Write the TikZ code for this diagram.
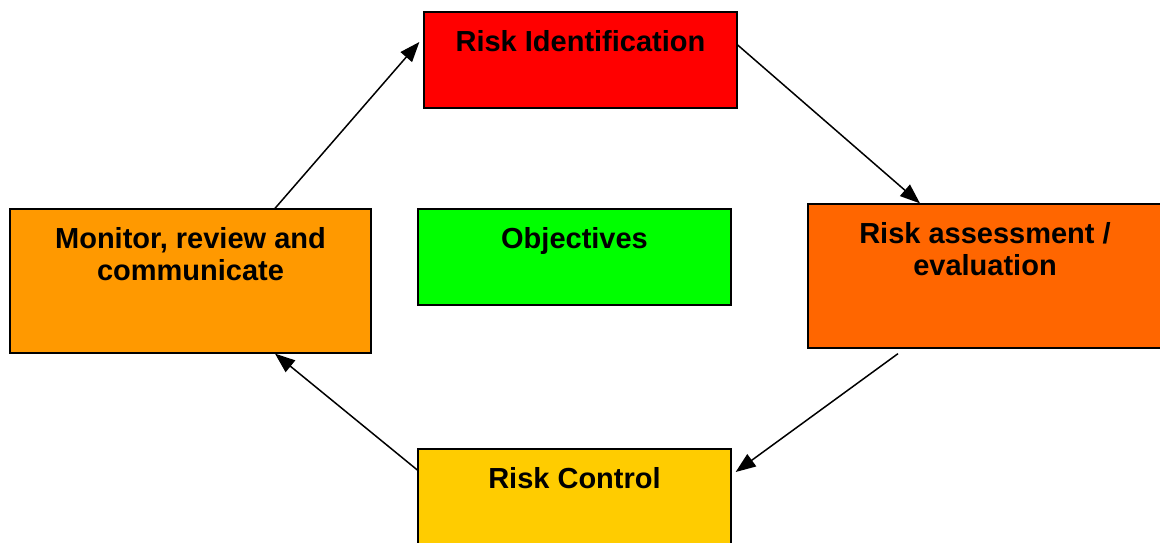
\documentclass[tikz,border=0pt]{standalone}
\usepackage{fontspec}
\setmainfont{Liberation Sans}
\usetikzlibrary{arrows.meta}
\definecolor{identred}{HTML}{FF0000}
\definecolor{objgreen}{HTML}{00FF00}
\definecolor{assessorange}{HTML}{FF6600}
\definecolor{monitororange}{HTML}{FF9900}
\definecolor{controlyellow}{HTML}{FFCC00}
\begin{document}
\begin{tikzpicture}[x=1pt,y=-1pt,
  box/.style={draw=black,line width=1.3pt,minimum width=313,minimum height=96,inner sep=0},
  title/.style={font=\fontsize{29}{32}\selectfont\bfseries,align=center,anchor=north,inner sep=0,yshift=-19},
  link/.style={line width=1.5pt,-{Triangle[length=20pt,width=15pt]}}]
% Frame
\clip (0,0) rectangle (1160,543);
% Boxes
\node[box,fill=identred,label={[title]north:Risk Identification}] (ident) at (580.5,60) {};
\node[box,fill=objgreen,label={[title]north:Objectives}] (obj) at (574.5,257) {};
\node[box,fill=assessorange,minimum width=354,minimum height=144,label={[title]north:Risk assessment /\\evaluation}] (assess) at (985,276) {};
\node[box,fill=monitororange,minimum width=361,minimum height=144,label={[title]north:Monitor, review and\\communicate}] (monitor) at (190.5,281) {};
\node[box,fill=controlyellow,label={[title]north:Risk Control}] (control) at (574.5,497) {};
% Arrows
\draw[link] ([xshift=84.5]monitor.north) -- ([xshift=-4,yshift=18]ident.west);
\draw[link] ([yshift=15]ident.east) -- ([xshift=-65]assess.north);
\draw[link] ([xshift=-87,yshift=-5]assess.south) -- ([xshift=4,yshift=25]control.east);
\draw[link] ([yshift=27]control.west) -- ([xshift=84.5]monitor.south);
\end{tikzpicture}
\end{document}
